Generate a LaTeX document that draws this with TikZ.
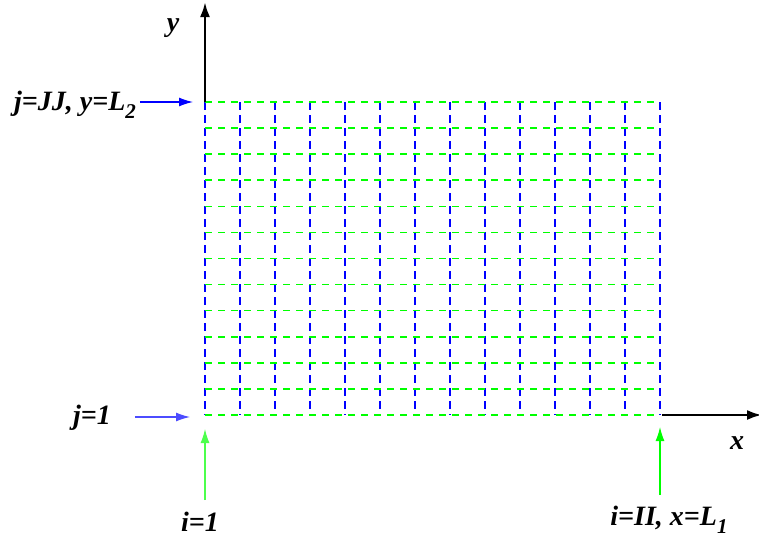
\documentclass[tikz,border=0pt]{standalone}
\usepackage{fontspec}
\setmainfont{Liberation Serif}
\usetikzlibrary{arrows.meta,positioning,calc}
\newcommand{\lowidx}[1]{\raisebox{-0.28em}{\fontsize{21}{21}\selectfont #1}}
\tikzset{
  lbl/.style={font=\bfseries\itshape\fontsize{28}{30}\selectfont,inner sep=1pt},
  axis/.style={-{Latex[length=15pt,width=10pt]},line width=2.6pt,black},
  ptr/.style={-{Latex[length=14pt,width=9pt]},line width=1.3pt},
  gridv/.style={blue,dash pattern=on 8pt off 5pt,line width=1.6pt},
  gridh/.style={green,dash pattern=on 7pt off 6pt,line width=1.6pt},
}
\begin{document}
\begin{tikzpicture}[x=1pt,y=1pt]
\useasboundingbox (-205,-127) rectangle (554,415);
% mesh
\foreach \i in {0,...,13}
  \draw[gridv] (\i*35,313) -- (\i*35,0);
\foreach \j in {0,...,12}
  \draw[gridh] (0,\j*26.083) -- (455,\j*26.083);
% axes
\coordinate (o) at (0,0);
\coordinate (ytop) at (0,413);
\coordinate (xend) at (557,0);
\draw[axis] (0,313) -- (ytop);
\draw[axis] (457,0) -- (xend);
\node[lbl] (ylab) at (-32,387) {y};
\node[lbl] (xlab) at (532,-28) {x};
% index labels
\coordinate (jJJtail) at (-65,313);
\coordinate (jJJtip) at (-12,313);
\coordinate (j1tail) at (-70,-2);
\coordinate (j1tip) at (-15,-2);
\coordinate (i1tail) at (0,-85);
\coordinate (i1tip) at (0,-14);
\coordinate (iIItail) at (455,-80);
\coordinate (iIItip) at (455,-12);
\node[lbl] (jJJ) at (-130,310) {j=JJ, y=L\lowidx{2}};
\node[lbl] (j1) at (-113,-3) {j=1};
\node[lbl] (i1) at (-5,-107) {i=1};
\node[lbl] (iII) at (464,-105) {i=II, x=L\lowidx{1}};
\draw[ptr,blue] (jJJtail) -- (jJJtip);
\draw[ptr,blue!70] (j1tail) -- (j1tip);
\draw[ptr,green!70] (i1tail) -- (i1tip);
\draw[ptr,green] (iIItail) -- (iIItip);
\end{tikzpicture}
\end{document}
